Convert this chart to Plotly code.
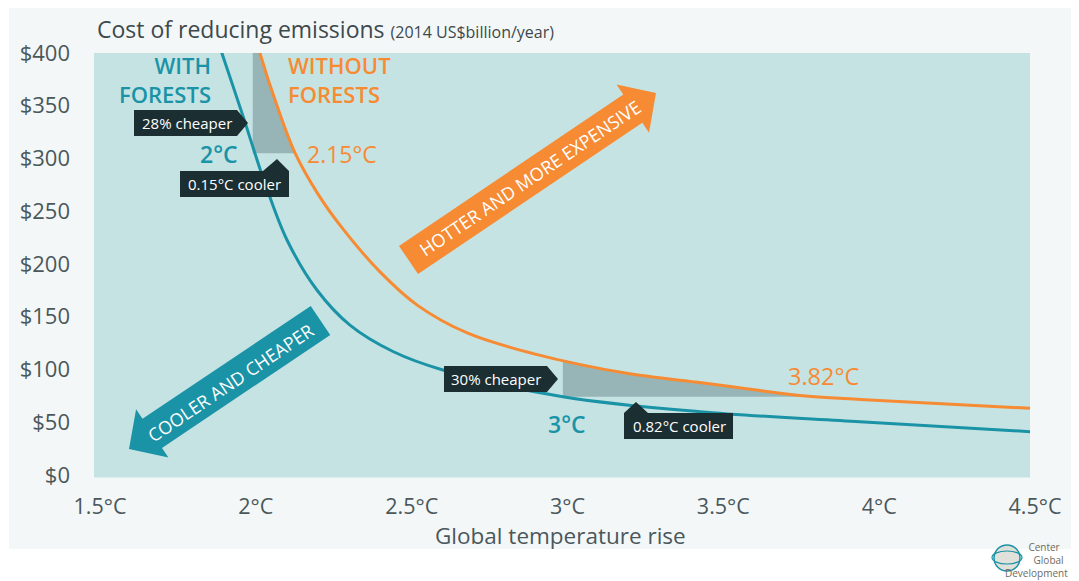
import plotly.graph_objects as go
import numpy as np

# ---------------- data ----------------
temp_with = [1.868, 1.891, 1.965, 1.997, 2.029, 2.100, 2.196, 2.302, 2.440, 2.600, 2.985, 3.425, 3.938, 4.484]
cost_with = [420, 400, 334.5, 305, 276.8, 222.7, 175.3, 142.0, 117.0, 99.5, 74.1, 59.9, 50.4, 41.0]

temp_without = [1.995, 2.013, 2.068, 2.126, 2.200, 2.280, 2.400, 2.520, 2.680, 2.890, 3.190, 3.430, 3.580, 3.746, 3.940, 4.484]
cost_without = [420, 400, 350.0, 305, 266.0, 233.0, 192.0, 160.5, 134.3, 115.0, 96.3, 87.4, 81.5, 75.3, 71.5, 63.1]

x_tickvals = [1.5, 2.0, 2.5, 3.0, 3.5, 4.0, 4.5]
x_ticktext = ["1.5°C", "2°C", "2.5°C", "3°C", "3.5°C", "4°C", "4.5°C"]
y_tickvals = [0, 50, 100, 150, 200, 250, 300, 350, 400]
y_ticktext = ["$0", "$50", "$100", "$150", "$200", "$250", "$300", "$350", "$400"]

# comparison points
cmp1_temp, cmp1_cost = 1.99, 305      # 2°C with forests
cmp2_temp, cmp2_cost = 2.985, 74.1    # 3°C with forests

# ---------------- layout helpers ----------------
# the page adds an 8px body margin, so the figure is 8px smaller than the window
OFF = 8
W, H = 1079 - OFF, 581 - OFF
L, R, T, B = 92, 44, 45, 104          # plot area on the page: x 100..1035, y 53..477
PW, PH = W - L - R, H - T - B


def px(x):   # page pixel x -> paper
    return (x - OFF - L) / PW


def py(y):   # page pixel y -> paper
    return (H - B - (y - OFF)) / PH


TEAL = "#1B93A6"
ORANGE = "#F68B33"
SHADE = "#97B5B7"
DARK = "#1B2E32"
TXT = "#4A585B"
FONT = "Open Sans"

fig = go.Figure()

tw = np.array(temp_without)
cw = np.array(cost_without)

# region 1 (2°C with forests vs without)
sel = (tw > cmp1_temp) & (cw >= cmp1_cost)
xs1 = [cmp1_temp, cmp1_temp] + list(tw[sel])
ys1 = [cmp1_cost, 420] + list(cw[sel])
fig.add_trace(go.Scatter(x=xs1, y=ys1, fill="toself", fillcolor=SHADE, mode="lines",
                         line=dict(width=0, color=SHADE), hoverinfo="skip", showlegend=False))

# region 2 (3°C with forests vs without)
top2 = float(np.interp(cmp2_temp, tw, cw))
end2 = float(np.interp(-cmp2_cost, -cw, tw))
sel2 = (tw > cmp2_temp) & (tw < end2)
xs2 = [cmp2_temp, cmp2_temp] + list(tw[sel2]) + [end2]
ys2 = [cmp2_cost, top2] + list(cw[sel2]) + [cmp2_cost]
fig.add_trace(go.Scatter(x=xs2, y=ys2, fill="toself", fillcolor=SHADE, mode="lines",
                         line=dict(width=0, color=SHADE), hoverinfo="skip", showlegend=False))

fig.add_trace(go.Scatter(x=temp_with, y=cost_with, mode="lines",
                         line=dict(color=TEAL, width=3, shape="spline", smoothing=1.0),
                         showlegend=False))
fig.add_trace(go.Scatter(x=temp_without, y=cost_without, mode="lines",
                         line=dict(color=ORANGE, width=3, shape="spline", smoothing=1.0),
                         showlegend=False))

shapes = []
shapes.append(dict(type="rect", xref="paper", yref="paper", x0=px(9), x1=px(1080), y0=py(549), y1=py(7),
                   fillcolor="#F3F7F8", line=dict(width=0), layer="below"))
shapes.append(dict(type="rect", xref="paper", yref="paper", x0=px(94), x1=px(1030), y0=py(477.5), y1=py(53),
                   fillcolor="#C5E3E3", line=dict(width=0), layer="below"))


def arrow_path(tail, tip, body_w, head_w, head_len):
    d = np.array([tip[0] - tail[0], tip[1] - tail[1]], dtype=float)
    u = d / np.hypot(*d)
    n = np.array([-u[1], u[0]])
    tp = np.array(tip, dtype=float)
    base = tp - u * head_len
    t = np.array(tail, dtype=float)
    pts = [t + n * body_w / 2, base + n * body_w / 2, base + n * head_w / 2, tp,
           base - n * head_w / 2, base - n * body_w / 2, t - n * body_w / 2]
    return "M " + " L ".join(f"{px(p[0]):.5f},{py(p[1]):.5f}" for p in pts) + " Z"


shapes.append(dict(type="path", xref="paper", yref="paper",
                   path=arrow_path((408.5, 260), (656, 93), 34, 58, 28),
                   fillcolor=ORANGE, line=dict(width=0), layer="below"))
shapes.append(dict(type="path", xref="paper", yref="paper",
                   path=arrow_path((320.5, 320.5), (129, 449), 35, 58, 28),
                   fillcolor=TEAL, line=dict(width=0), layer="below"))


def poly(points):
    return "M " + " L ".join(f"{px(x):.5f},{py(y):.5f}" for x, y in points) + " Z"


callouts = [
    [(134, 110), (237, 110), (248, 123), (237, 136), (134, 136)],
    [(180, 171), (263, 171), (277, 159), (289, 171), (289, 197), (180, 197)],
    [(444, 366), (547, 366), (558, 379), (547, 392), (444, 392)],
    [(624, 413), (636, 402), (648, 413), (733, 413), (733, 439), (624, 439)],
]
for c in callouts:
    shapes.append(dict(type="path", xref="paper", yref="paper", path=poly(c),
                       fillcolor=DARK, line=dict(width=0), layer="above"))

# logo mark
shapes.append(dict(type="circle", xref="paper", yref="paper", x0=px(994), x1=px(1020), y0=py(571), y1=py(545),
                   fillcolor="rgba(205,205,195,0.6)", line=dict(color=TEAL, width=1.5), layer="above"))
shapes.append(dict(type="circle", xref="paper", yref="paper", x0=px(992), x1=px(1022), y0=py(564), y1=py(551),
                   line=dict(color=TEAL, width=1.2), layer="above"))

annotations = []


def ann(text, x, y, size, color, xanchor="center", yanchor="middle", weight=None, angle=0,
        family=FONT, align="left"):
    f = dict(family=family, size=size, color=color)
    if weight:
        f["weight"] = weight
    annotations.append(dict(text=text, x=px(x), y=py(y), xref="paper", yref="paper", showarrow=False,
                            xanchor=xanchor, yanchor=yanchor, font=f, textangle=angle, align=align,
                            borderpad=0))


ann("Cost of reducing emissions <span style='font-size:16px'>(2014 US$billion/year)</span>",
    96, 29, 23, "#3D494C", xanchor="left")
ann("Global temperature rise", 560, 535, 22.5, TXT)

ann("WITH<br>FORESTS", 212, 80, 22, TEAL, xanchor="right", weight=600, align="right")
ann("WITHOUT<br>FORESTS", 287, 80, 22, ORANGE, xanchor="left", weight=600, align="left")

ann("2°C", 219, 154, 23, TEAL, weight=600)
ann("2.15°C", 342, 154, 23, ORANGE, weight=500)
ann("3°C", 567, 424, 23, TEAL, weight=600)
ann("3.82°C", 824, 376, 23.5, ORANGE, weight=500)

ann("28% cheaper", 187, 123, 15, "white")
ann("0.15°C cooler", 234, 184, 15, "white")
ann("30% cheaper", 496, 379, 15, "white")
ann("0.82°C cooler", 679, 426, 15, "white")

ann("HOTTER AND MORE EXPENSIVE", 530, 178, 18, "white", angle=-34)
ann("COOLER AND CHEAPER", 230, 383, 18, "white", angle=-34)

ann("&nbsp;" * 9 + "Center<br>" + "&nbsp;" * 11 + "Global<br>Development",
    1004, 560, 10, "#6E6B5E", xanchor="left", align="left")

fig.update_layout(
    width=W, height=H, autosize=False,
    margin=dict(l=L, r=R, t=T, b=B),
    paper_bgcolor="white", plot_bgcolor="rgba(0,0,0,0)",
    shapes=shapes, annotations=annotations, showlegend=False,
    xaxis=dict(range=[1.5, 4.5], tickvals=x_tickvals, ticktext=x_ticktext, showgrid=False, zeroline=False,
               showline=False, ticks="", ticklabelstandoff=14,
               tickfont=dict(family=FONT, size=21.5, color=TXT), fixedrange=True),
    yaxis=dict(range=[-2, 400], tickvals=y_tickvals, ticktext=y_ticktext, showgrid=False, zeroline=False,
               showline=False, ticks="", ticklabelstandoff=29,
               tickfont=dict(family=FONT, size=22, color=TXT), fixedrange=True),
)

fig.write_html("out.html")
